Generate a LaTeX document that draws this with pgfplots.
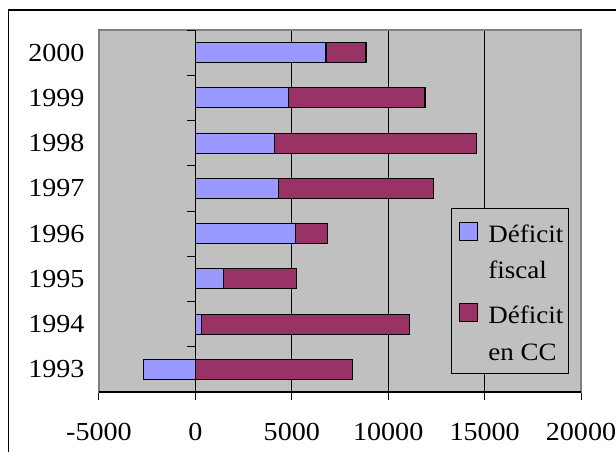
\documentclass[border=0pt]{standalone}
\usepackage{pgfplots}
\usepackage{pgfplotstable}
\pgfplotsset{compat=1.18}
\usepackage{fontspec}
\setmainfont{Liberation Serif}[FakeStretch=1.08]
\definecolor{bgray}{RGB}{192,192,192}
\definecolor{bord}{RGB}{128,128,128}
\definecolor{fisc}{RGB}{153,153,255}
\definecolor{cc}{RGB}{153,51,102}
\pgfplotstableread{
year fis cc
1993 -2677 8153
1994 304 10810
1995 1440 3790
1996 5212 1660
1997 4300 8030
1998 4097 10500
1999 4827 7080
2000 6775 2070
}\data
\newcommand{\lent}[2]{\makebox[80pt][l]{\raisebox{#1}{#2}}}
\begin{document}
\begin{tikzpicture}[x=1pt,y=1pt]
\useasboundingbox (0,0) rectangle (616,451);
\draw[line width=1.2pt] (8.6,-5) -- (8.6,441) -- (625,441);
\begin{axis}[
  at={(99pt,59pt)}, anchor=south west,
  scale only axis, width=482pt, height=362pt,
  xmin=-5000, xmax=20000, ymin=1992.5, ymax=2000.5,
  xtick={-5000,0,5000,10000,15000,20000},
  xticklabels={{-5000},0,5000,10000,15000,20000},
  ytick={1993,...,2000},
  yticklabels={1993,1994,1995,1996,1997,1998,1999,2000},
  tick label style={font=\fontsize{26}{30}\selectfont},
  axis background/.style={fill=bgray},
  axis line style={draw=bord, line width=1.2pt},
  tick pos=left, tick align=outside,
  major tick length=8pt,
  xtick style={black, line width=1pt},
  ytick style={draw=none},
  xmajorgrids, major grid style={black, line width=0.8pt},
  xticklabel style={yshift=-20pt},
  yticklabel style={xshift=-3pt},
  legend style={at={(0.730,0.508)}, anchor=north west,
    fill=bgray, draw=black, line width=0.8pt,
    inner xsep=0pt, inner ysep=10pt,
    row sep=11pt, column sep=10pt,
    font=\fontsize{25}{30}\selectfont,
    cells={anchor=base west},
    nodes={inner sep=0pt, text height=24pt, text depth=4pt}},
]
\addplot[xbar, bar width=20pt, bar shift=0pt, fill=cc, draw=black, line width=1.2pt,
  forget plot]
  table[y=year, x expr={max(\thisrow{fis},0)+\thisrow{cc}}] {\data};
\addplot[xbar, bar width=20pt, bar shift=0pt, fill=fisc, draw=black, line width=1.2pt,
  legend image code/.code={\path (0pt,0pt); \draw[fill=fisc, draw=black, line width=1.2pt] (8pt,2pt) rectangle (26pt,20pt);}]
  table[y=year, x=fis] {\data};
\addlegendentry{\lent{0pt}{Déficit}}
\addlegendimage{empty legend}
\addlegendentry{\lent{3pt}{fiscal}}
\addlegendimage{legend image code/.code={\path (0pt,0pt); \draw[fill=cc, draw=black, line width=1.2pt] (8pt,-1pt) rectangle (26pt,17pt);}}
\addlegendentry{\lent{-3pt}{Déficit}}
\addlegendimage{empty legend}
\addlegendentry{\lent{-1pt}{en CC}}
\draw[black, line width=1.2pt] (axis cs:0,1992.5) -- (axis cs:0,2000.5);
\pgfplotsinvokeforeach{1992.5,1993.5,1994.5,1995.5,1996.5,1997.5,1998.5,1999.5,2000.5}{
  \draw[black, line width=1pt] (axis cs:0,#1) -- ++(-8pt,0pt);
}
\draw[black, line width=1.2pt] (axis description cs:0,0) -- (axis description cs:1,0);
\end{axis}
\end{tikzpicture}
\end{document}
